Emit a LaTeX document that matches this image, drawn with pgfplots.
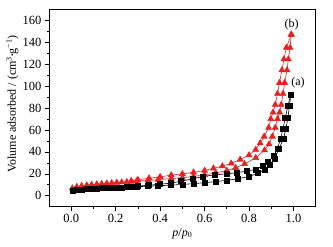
\documentclass[border=0pt]{standalone}
\usepackage{fontspec}
\setmainfont{Liberation Serif}
\usepackage{pgfplots}
\pgfplotsset{compat=1.18}
\definecolor{myred}{RGB}{232,32,32}
\begin{document}
\begin{tikzpicture}
\begin{axis}[
  scale only axis, width=266.7pt, height=197.4pt,
  at={(0,0)}, anchor=south west,
  xmin=-0.1, xmax=1.1, ymin=-10, ymax=170,
  xtick={0,0.2,0.4,0.6,0.8,1.0}, ytick={0,20,...,160},
  minor x tick num=1, minor y tick num=1,
  tick pos=left, tick align=outside,
  major tick length=4pt, minor tick length=2.2pt,
  every tick/.style={black, line width=0.6pt},
  axis line style={line width=0.7pt},
  /pgf/number format/assume math mode=true,
  xticklabel style={/pgf/number format/.cd, fixed, fixed zerofill, precision=1},
  tick label style={font=\fontsize{12.5}{14}\selectfont},
  xlabel={\textit{p}/\textit{p}\textsubscript{0}},
  ylabel={Volume adsorbed / (cm\textsuperscript{3}\raisebox{0.25ex}{\scriptsize\textbullet}g\textsuperscript{−1})},
  every axis y label/.style={at={(axis description cs:-0.137,0.52)}, rotate=90, anchor=center, font=\fontsize{12}{14}\selectfont},
  every axis x label/.style={at={(axis description cs:0.5,-0.135)}, anchor=center, font=\fontsize{12}{14}\selectfont},
  clip=false,
]
% (b) adsorption
\addplot[myred, line width=0.6pt, mark=triangle*, mark size=3.4pt, mark options={solid, fill=myred}] coordinates {
(0.005,6.9)(0.025,8.2)(0.047,9.0)(0.07,9.6)(0.092,10.1)(0.115,10.5)(0.137,10.9)(0.16,11.3)(0.182,11.6)(0.205,12.0)(0.227,12.3)(0.25,12.6)(0.27,12.9)(0.294,13.3)(0.346,14.0)(0.391,14.7)(0.45,15.6)(0.50,16.5)(0.55,17.6)(0.60,19.0)(0.65,20.8)(0.70,23.0)(0.74,25.5)(0.78,29.0)(0.83,34.5)(0.87,41.5)(0.89,47)(0.905,54)(0.918,62)(0.928,70)(0.938,76)(0.945,83)(0.953,93)(0.96,103)(0.971,114.5)(0.977,124.5)(0.985,135)(0.99,147)
};
% (b) desorption
\addplot[myred, line width=0.6pt, mark=triangle*, mark size=3.4pt, mark options={solid, fill=myred}] coordinates {
(0.99,147)(0.968,135)(0.957,124.5)(0.948,114.5)(0.937,103)(0.928,93)(0.918,83)(0.908,76)(0.898,70)(0.888,62)(0.868,54)(0.85,48)(0.83,42)(0.80,37)(0.76,33)(0.72,29.5)(0.68,27)(0.64,25)(0.60,23)(0.55,21.3)(0.50,20)(0.45,18.8)(0.40,17.2)(0.35,16.0)(0.30,14.6)(0.27,13.6)
};
% (a) adsorption
\addplot[black, line width=0.6pt, mark=square*, mark size=2.5pt, mark options={solid, fill=black}] coordinates {
(0.005,4.2)(0.025,5.0)(0.047,5.5)(0.07,5.9)(0.092,6.2)(0.115,6.5)(0.137,6.8)(0.16,7.0)(0.182,7.2)(0.205,7.4)(0.227,7.6)(0.25,7.8)(0.27,8.0)(0.294,8.2)(0.346,8.7)(0.391,9.1)(0.45,9.7)(0.50,10.3)(0.55,11.0)(0.60,11.9)(0.65,12.9)(0.70,14.0)(0.75,15.5)(0.80,17.5)(0.84,20.5)(0.87,24)(0.895,28.5)(0.915,34)(0.935,43)(0.955,52)(0.966,61)(0.975,71)(0.982,82)(0.988,92)
};
% (a) desorption
\addplot[black, line width=0.6pt, mark=square*, mark size=2.5pt, mark options={solid, fill=black}] coordinates {
(0.988,92)(0.975,82)(0.963,71)(0.953,61)(0.942,52)(0.928,43)(0.91,36)(0.885,31)(0.86,27)(0.83,24)(0.79,22.5)(0.745,21)(0.70,20)(0.645,19)(0.59,17.5)(0.547,15.4)(0.495,13.3)(0.45,11.5)(0.40,10.5)(0.35,9.6)(0.30,8.8)(0.27,8.2)
};
\node[font=\fontsize{12}{14}\selectfont] at (axis cs:0.992,156) {(b)};
\node[font=\fontsize{12}{14}\selectfont] at (axis cs:1.02,103) {(a)};
\end{axis}
\pgfresetboundingbox
\path[use as bounding box] (-49pt,-40.3pt) rectangle (284pt,206.7pt);
\end{tikzpicture}
\end{document}
